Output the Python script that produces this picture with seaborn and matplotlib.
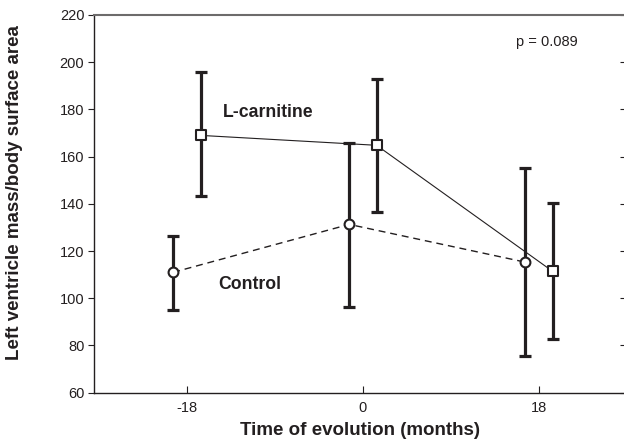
import matplotlib
matplotlib.use("Agg")
import matplotlib.pyplot as plt
import seaborn as sns
import pandas as pd

# ---- data ----
times = [-18, 0, 18]
xtick_labels = ["-18", "0", "18"]
yticks = [60, 80, 100, 120, 140, 160, 180, 200, 220]

lcar_mean = [169.0, 164.8, 111.4]
lcar_low = [143.3, 136.4, 82.6]
lcar_high = [195.7, 192.8, 140.2]

ctrl_mean = [111.0, 131.3, 115.3]
ctrl_low = [95.0, 96.2, 75.5]
ctrl_high = [126.4, 165.6, 155.1]

# ---- style ----
sns.set_style("ticks")
plt.rcParams['font.family'] = ['Liberation Sans', 'DejaVu Sans']
ink = "#231f20"

fig = plt.figure(figsize=(6.24, 4.46), dpi=100)
ax = fig.add_axes([94 / 624, 1 - 392.7 / 446, (626 - 94) / 624, (392.7 - 15) / 446])

offset = 1.4
x_ctrl = [t - offset for t in times]
x_lcar = [t + offset for t in times]

df = pd.DataFrame({
    "x": x_ctrl + x_lcar,
    "y": ctrl_mean + lcar_mean,
    "group": ["Control"] * 3 + ["L-carnitine"] * 3,
})

# error bars
for xs, m, lo, hi in [(x_ctrl, ctrl_mean, ctrl_low, ctrl_high),
                      (x_lcar, lcar_mean, lcar_low, lcar_high)]:
    yerr = [[a - b for a, b in zip(m, lo)], [c - a for a, c in zip(m, hi)]]
    ax.errorbar(xs, m, yerr=yerr, fmt="none", ecolor=ink, elinewidth=2.3,
                capsize=4.5, capthick=2.3, zorder=2)

# lines
sns.lineplot(data=df[df.group == "L-carnitine"], x="x", y="y", ax=ax,
             color=ink, linewidth=0.8, zorder=3, estimator=None, sort=False)
sns.lineplot(data=df[df.group == "Control"], x="x", y="y", ax=ax,
             color=ink, linewidth=1.0, zorder=3, estimator=None, sort=False,
             dashes=False)
ax.lines[-1].set_linestyle((0, (5, 3.5)))

# markers
sns.scatterplot(data=df[df.group == "L-carnitine"], x="x", y="y", ax=ax,
                marker="s", s=55, facecolor="white", edgecolor=ink,
                linewidth=1.5, zorder=4)
sns.scatterplot(data=df[df.group == "Control"], x="x", y="y", ax=ax,
                marker="o", s=50, facecolor="white", edgecolor=ink,
                linewidth=1.5, zorder=4)

ax.set_xlim(-27.5, 26.9)
ax.set_ylim(60, 220)
ax.set_xticks(times)
ax.set_xticklabels(xtick_labels)
ax.set_yticks(yticks)

ax.tick_params(axis="y", which="both", left=True, right=True, labelleft=True,
               labelright=False, direction="out", length=4, width=0.8,
               color=ink, labelsize=10.5, labelcolor=ink, pad=3)
for t in ax.yaxis.get_major_ticks():
    t.tick2line.set_marker(matplotlib.lines.TICKLEFT)
    t.tick2line.set_markersize(4)
ax.tick_params(axis="x", direction="in", length=5, width=0.8, color=ink,
               labelsize=10.5, labelcolor=ink, pad=6)

for s in ["left", "bottom"]:
    ax.spines[s].set_color(ink)
    ax.spines[s].set_linewidth(1.0)
ax.spines["top"].set_color("#6d6b6b")
ax.spines["top"].set_linewidth(1.5)
ax.spines["right"].set_visible(False)

ax.set_xlabel("Time of evolution (months)", fontsize=13.5, fontweight="bold",
              color=ink, labelpad=5)
ax.set_ylabel("Left ventricle mass/body surface area", fontsize=13.5,
              fontweight="bold", color=ink)
ax.yaxis.set_label_coords(-0.1335, 0.529)

ax.text(-14.3, 178.9, "L-carnitine", fontsize=12.7, fontweight="bold",
        color=ink, va="center", ha="left")
ax.text(-14.8, 106, "Control", fontsize=12.7, fontweight="bold",
        color=ink, va="center", ha="left")
ax.text(15.7, 208.7, "p = 0.089", fontsize=10.5, color=ink, va="center", ha="left")

fig.savefig("out.png", dpi=100)
